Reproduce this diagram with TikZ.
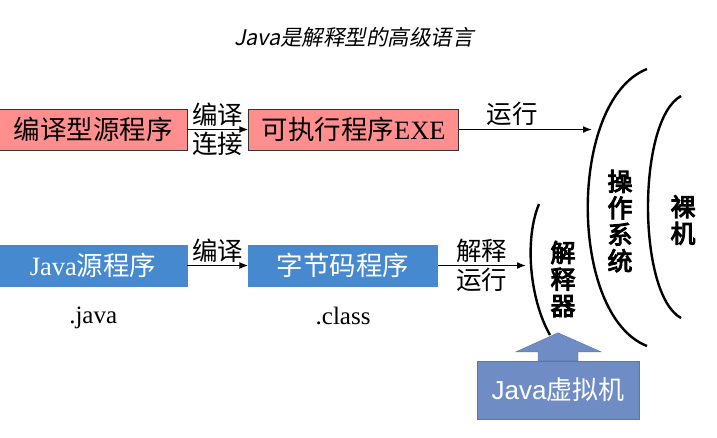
\documentclass[tikz,border=0pt]{standalone}
\usepackage{fontspec}
\setmainfont{Liberation Serif}
\newfontfamily\cjk[AutoFakeBold=4,AutoFakeSlant=0.2]{Noto Sans CJK SC}
\newfontfamily\arialfont{Liberation Sans}
\usetikzlibrary{positioning,arrows.meta}
\definecolor{exepink}{RGB}{255,143,143}
\definecolor{javablue}{RGB}{71,137,207}
\definecolor{vmblue}{RGB}{111,141,196}
\definecolor{vmedge}{RGB}{90,118,170}

\begin{document}
\begin{tikzpicture}[
        x=1pt, y=-1pt,
        node distance=0pt and 61pt,
        box/.style={draw=black!80, inner sep=0pt, minimum width=188pt, minimum height=41pt, font=\fontsize{26.5}{26.5}\selectfont},
        pinkbox/.style={box, fill=exepink},
        bluebox/.style={box, draw=javablue, fill=javablue, text=white},
        lbl/.style={font=\cjk\fontsize{25.5}{25.5}\selectfont, inner sep=1pt},
        vlbl/.style={font=\cjk\bfseries\fontsize{25}{26.5}\selectfont, align=center, inner sep=0pt},
        arrow/.style={-{Latex[length=9pt,width=7pt]}, line width=1.6pt},
        shell/.style={line width=2.4pt}
    ]
    \useasboundingbox (0,0) rectangle (717,437);

    % --- Title ---
    \node[font=\cjk\itshape\fontsize{21.5}{21.5}\selectfont] (title) at (354,37) {Java是解释型的高级语言};

    % --- Compiled language ---
    \node[pinkbox, anchor=west] (src) at (-1,129.5) {\cjk 编译型源程序};
    \node[pinkbox, right=of src, minimum width=210pt] (exe) {{\cjk 可执行程序}EXE};

    % --- Java ---
    \node[bluebox, anchor=west] (jsrc) at (-1,265.5) {Java{\cjk 源程序}};
    \node[bluebox, right=of jsrc, minimum width=189pt] (bytecode) {\cjk 字节码程序};
    \node[font=\fontsize{25}{25}\selectfont, below=17pt of jsrc] (jext) {.java};
    \node[font=\fontsize{25}{25}\selectfont, below=17pt of bytecode] (cext) {.class};

    % --- Layers ---
    \coordinate (ostop) at (647,69);
    \coordinate (osbot) at (647,346);
    \coordinate (hwtop) at (681,96);
    \coordinate (hwbot) at (681,318);
    \coordinate (intop) at (539,204);
    \coordinate (inbot) at (550,335);
    \draw[shell] (ostop) .. controls (568,100) and (568,315) .. (osbot);
    \draw[shell] (hwtop) .. controls (637,120) and (637,294) .. (hwbot);
    \draw[shell] (intop) .. controls (524,240) and (530,300) .. (inbot);
    \node[vlbl] (os) at (620,221) {操\\作\\系\\统};
    \node[vlbl] (hw) at (683,220) {裸\\机};
    \node[vlbl] (interp) at (563,279) {解\\释\\器};
    \coordinate (osin) at (592,129.5);
    \coordinate (interpin) at (526,265.5);

    % --- Java virtual machine ---
    \node[draw=vmedge, fill=vmblue, text=white, minimum width=162pt, minimum height=58pt,
          font=\arialfont\fontsize{26}{26}\selectfont] (vm) at (558,390) {Java{\cjk 虚拟机}};
    \filldraw[draw=vmedge, fill=vmblue] (vm.north) ++(-20,0) -- ++(0,-9) -- ++(-22,0)
        -- ++(42,-19) -- ++(43,19) -- ++(-23,0) -- ++(0,9) -- cycle;

    % --- Connections ---
    \draw[arrow] (src) -- node[lbl, above=1pt] (l1) {编译} node[lbl, below=1pt] (l2) {连接} (exe);
    \draw[arrow] (exe) -- node[lbl, above=2pt, pos=0.4] (l3) {运行} (osin);
    \draw[arrow] (jsrc) -- node[lbl, above=1pt] (l4) {编译} (bytecode);
    \draw[arrow] (bytecode) -- node[lbl, above=1pt] (l5) {解释} node[lbl, below=1pt] (l6) {运行} (interpin);

\end{tikzpicture}
\end{document}
